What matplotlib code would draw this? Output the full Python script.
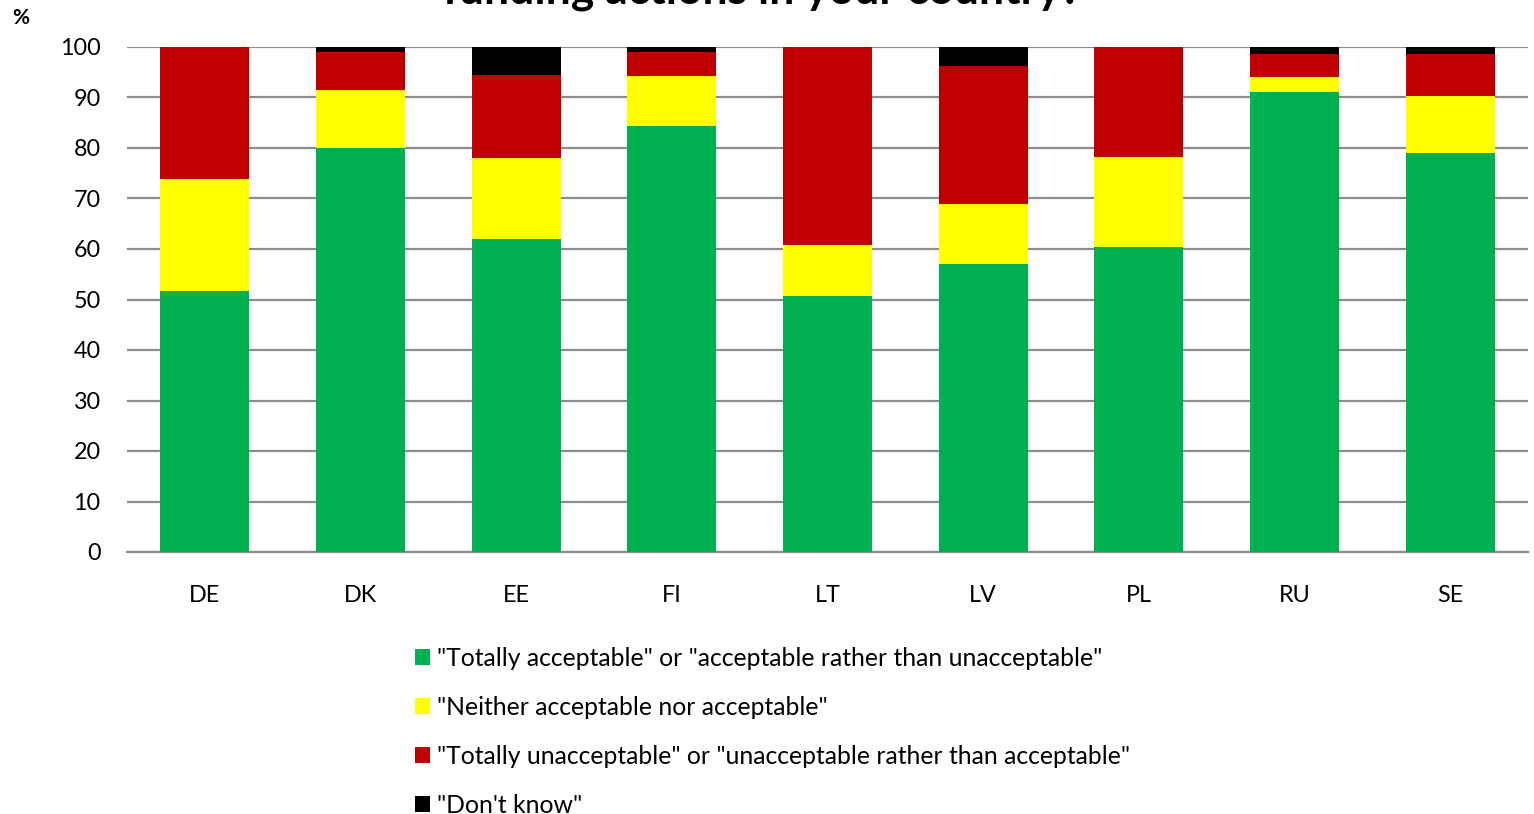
import matplotlib
matplotlib.use("Agg")
import matplotlib.pyplot as plt
import numpy as np

plt.rcParams['font.family'] = ['Lato', 'DejaVu Sans']

countries = ["DE", "DK", "EE", "FI", "LT", "LV", "PL", "RU", "SE"]
acceptable = [51.7, 80.0, 62.0, 84.3, 50.6, 57.0, 60.3, 91.0, 79.1]
neither = [22.2, 11.5, 16.0, 10.0, 10.1, 12.0, 18.0, 3.0, 11.2]
unacceptable = [26.1, 7.6, 16.5, 4.8, 39.3, 27.2, 21.7, 4.6, 8.3]
dont_know = [0.0, 0.9, 5.5, 0.9, 0.0, 3.8, 0.0, 1.4, 1.4]

series_labels = [
    '"Totally acceptable" or "acceptable rather than unacceptable"',
    '"Neither acceptable nor acceptable"',
    '"Totally unacceptable" or "unacceptable rather than acceptable"',
    '"Don\'t know"',
]
colors = ["#00AF50", "#FFFF00", "#C00000", "#000000"]
yticks = [0, 10, 20, 30, 40, 50, 60, 70, 80, 90, 100]

W, H = 1534, 814
fig = plt.figure(figsize=(W / 100, H / 100), dpi=100)
ax = fig.add_axes([127 / W, 1 - 552 / H, (1528 - 127) / W, (552 - 47) / H])

x = np.arange(len(countries))
bottom = np.zeros(len(countries))
handles = []
for vals, col, lab in zip([acceptable, neither, unacceptable, dont_know], colors, series_labels):
    v = np.array(vals)
    b = ax.bar(x, v, bottom=bottom, width=0.57, color=col, label=lab, zorder=3)
    handles.append(b)
    bottom += v

ax.set_xlim(-0.5, len(countries) - 0.5)
ax.set_ylim(0, 100)
ax.set_yticks(yticks)
ax.set_xticks(x)
ax.set_xticklabels(countries)
ax.yaxis.grid(True, color="#8c8c8c", linewidth=1.6, zorder=0)
ax.set_axisbelow(True)
for s in ["left", "right", "top"]:
    ax.spines[s].set_visible(False)
ax.spines["bottom"].set_color("#8c8c8c")
ax.spines["bottom"].set_linewidth(1.6)
ax.spines["bottom"].set_zorder(0)
ax.tick_params(axis="both", length=0, labelsize=16.8, colors="black")
ax.tick_params(axis="y", pad=19)
ax.tick_params(axis="x", pad=24)

fig.text(21 / W, 1 - 18 / H, "%", fontsize=15, fontweight="bold", ha="center", va="center")
fig.text(762 / W, 1 - 3.5 / H, "funding actions in your country?", fontsize=32,
         fontweight="bold", ha="center", va="baseline")

fig.legend(handles=handles, loc="upper left", bbox_to_anchor=(405 / W, 1 - 637 / H),
           frameon=False, fontsize=17.8, handlelength=0.6, handleheight=0.6,
           handletextpad=0.3, labelspacing=1.05, borderaxespad=0)

fig.savefig("out.png", dpi=100)
